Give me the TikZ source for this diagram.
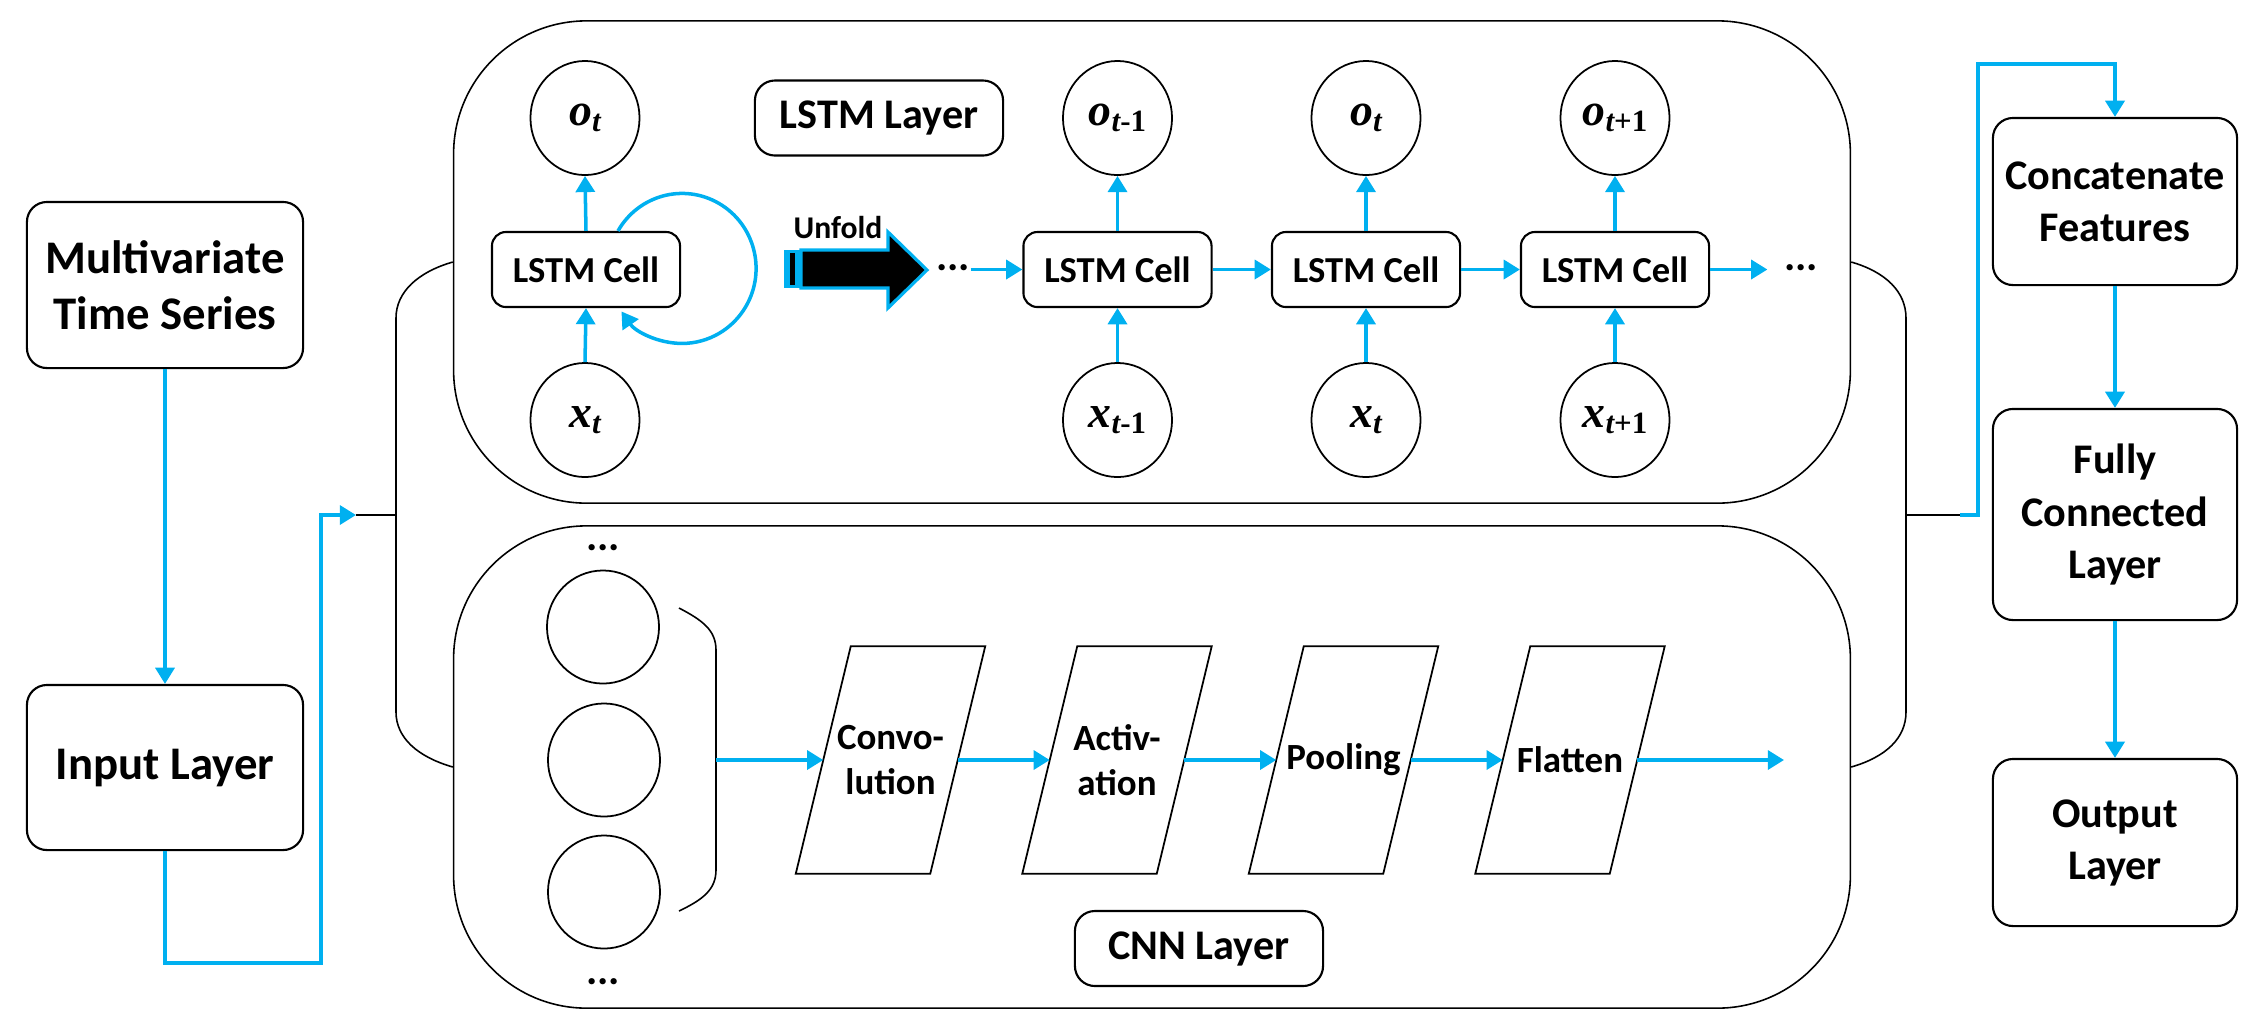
\documentclass[tikz,border=0pt]{standalone}
\usepackage{fontspec}
\setmainfont{Carlito}
\newfontfamily\tnr{Liberation Serif}
\usetikzlibrary{arrows.meta,calc,shapes.geometric}
\definecolor{cblue}{RGB}{0,176,240}
\newcommand\lab[3]{#1\raisebox{-1.9pt}{\fontsize{8.8}{8.8}\selectfont#2{\upshape#3}}}
\tikzset{
  bl/.style={draw=cblue, line width=1pt, -{Triangle[length=4.6pt,width=5.4pt]}},
  blk/.style={draw=black, line width=0.45pt},
  txtbox/.style={draw, line width=0.6pt, rounded corners=0.2cm, align=center,
    font=\fontsize{13.3}{16}\selectfont\bfseries, minimum width=2.76cm, minimum height=1.66cm, inner sep=0},
  rbox/.style={draw, line width=0.6pt, rounded corners=0.2cm, align=center,
    font=\fontsize{12}{14.8}\selectfont\bfseries, minimum width=2.44cm, inner sep=0},
  cellbox/.style={draw, line width=0.6pt, rounded corners=0.14cm,
    font=\fontsize{10.4}{12}\selectfont\bfseries, minimum width=1.88cm, minimum height=0.75cm, inner sep=0},
  lbox/.style={draw, line width=0.6pt, rounded corners=0.2cm,
    font=\fontsize{12}{14}\selectfont\bfseries, minimum width=2.48cm, minimum height=0.75cm, inner sep=0},
  layer/.style={draw, line width=0.45pt, rounded corners=1.33cm, minimum width=13.96cm, minimum height=4.82cm, inner sep=0},
  neuron/.style={draw, ellipse, line width=0.5pt, minimum width=1.09cm, minimum height=1.14cm, inner sep=0,
    font=\tnr\fontsize{13}{13}\selectfont\bfseries\itshape},
  cneuron/.style={draw, ellipse, line width=0.5pt, minimum width=1.12cm, minimum height=1.13cm, inner sep=0},
  parabox/.style={minimum width=1.33cm, minimum height=2.26cm, inner sep=0, align=center,
    font=\fontsize{10.5}{12.8}\selectfont\bfseries},
  dots/.style={font=\fontsize{12}{12}\selectfont\bfseries, inner sep=0},
}
\begin{document}
\begin{tikzpicture}[x=0.01cm, y=-0.01cm]
\useasboundingbox (0,0) rectangle (2259,1023);

% left boxes
\node[txtbox] (mts) at (165,285) {Multivariate\\Time Series};
\node[txtbox, minimum height=1.65cm] (input) at (165,767.5) {Input Layer};

% big layer boxes
\node[layer] (lstm) at (1152,262) {};
\node[layer] (cnn) at (1152,767) {};

% right boxes
\node[rbox, minimum height=1.67cm] (concat) at (2115,201.5) {Concatenate\\Features};
\node[rbox, minimum height=2.11cm] (fc) at (2115,514.5) {Fully\\Connected\\Layer};
\node[rbox, minimum height=1.67cm] (out) at (2115,842.5) {Output\\Layer};

% junctions
\coordinate (jin) at (356,515);
\coordinate (jl) at (396,515);
\coordinate (jr) at (1906,515);
\coordinate (jout) at (1960,515);

% brackets
\draw[blk] (lstm.west) .. controls (418,272) and (396,292) .. (396,318) -- (396,712)
  .. controls (396,738) and (418,757) .. (cnn.west);
\draw[blk] (lstm.east) .. controls (1886,272) and (1906,292) .. (1906,318) -- (1906,712)
  .. controls (1906,738) and (1886,757) .. (cnn.east);
\draw[blk] (jin) -- (jl);
\draw[blk] (jr) -- (jout);

% left connectors
\draw[bl] (mts.south) -- (input.north);
\draw[bl] (input.south) -- ++(0,112) -| (321,515) -- (jin);

% right connectors
\draw[bl] (jout) -- (1978,515) |- ($(concat.north)+(0,-53)$) -- (concat.north);
\draw[bl] (concat.south) -- (fc.north);
\draw[bl] (fc.south) -- (out.north);

% LSTM layer content
\node[lbox] (lstmlab) at (879,118) {LSTM Layer};
\node[cellbox] (cell1) at (586,269.5) {LSTM Cell};
\node[neuron] (o1) at (585,118) {\lab{o}{t}{}};
\node[neuron] (x1) at (585,420) {\lab{x}{t}{}};
\draw[bl] (cell1.north) -- (o1.south);
\draw[bl] (x1.north) -- (cell1.south);
\draw[bl] ($(cell1.north)+(32,0)$) arc[start angle=-150, end angle=145, x radius=74, y radius=75];

\node[font=\fontsize{9}{10}\selectfont\bfseries, inner sep=0] (unfold) at (838,227) {Unfold};
\fill[cblue] (784,250) rectangle (800,288);
\fill[black] (789.5,253) rectangle (795,285);
\filldraw[fill=black, draw=cblue, line width=0.9pt]
  (801,250) -- (888,250) -- (888,232) -- (927,270) -- (888,308) -- (888,288) -- (801,288) -- cycle;

\node[dots] (dots1) at (953,268) {...};
\node[cellbox] (cell2) at (1117.5,269.5) {LSTM Cell};
\node[cellbox] (cell3) at (1366,269.5) {LSTM Cell};
\node[cellbox] (cell4) at (1615,269.5) {LSTM Cell};
\node[dots] (dots2) at (1801,268) {...};
\node[neuron] (o2) at (1117.5,118) {\lab{o}{t}{-1}};
\node[neuron] (x2) at (1117.5,420) {\lab{x}{t}{-1}};
\node[neuron] (o3) at (1366,118) {\lab{o}{t}{}};
\node[neuron] (x3) at (1366,420) {\lab{x}{t}{}};
\node[neuron] (o4) at (1615,118) {\lab{o}{t}{+1}};
\node[neuron] (x4) at (1615,420) {\lab{x}{t}{+1}};
\foreach \i in {2,3,4}{
  \draw[bl] (cell\i.north) -- (o\i.south);
  \draw[bl] (x\i.north) -- (cell\i.south);
}
\draw[bl] (dots1.east |- cell2.west) -- (cell2.west);
\draw[bl] (cell2.east) -- (cell3.west);
\draw[bl] (cell3.east) -- (cell4.west);
\draw[bl, shorten >=0.16cm] (cell4.east) -- (cell4.east -| dots2.west);

% CNN layer content
\node[dots] (cdots1) at (603,548) {...};
\node[cneuron] (c1) at (603,627) {};
\node[cneuron] (c2) at (604,760) {};
\node[cneuron] (c3) at (604,892) {};
\node[dots] (cdots2) at (603,982) {...};
\coordinate (jc) at (716,760);
\draw[blk] (679,608) .. controls (702,620) and (716,630) .. (716,650) -- (716,870)
  .. controls (716,890) and (702,900) .. (679,911);

\node[parabox] (conv) at (890.5,760) {Convo-\\lution};
\node[parabox] (act) at (1117,760) {Activ-\\ation};
\node[parabox] (pool) at (1343.5,760) {Pooling};
\node[parabox] (flat) at (1570,760) {Flatten};
\foreach \n in {conv,act,pool,flat}{
  \draw[line width=0.5pt] ($(\n.north west)+(27.5,0)$) -- ($(\n.north east)+(27.5,0)$)
    -- ($(\n.south east)+(-27.5,0)$) -- ($(\n.south west)+(-27.5,0)$) -- cycle;
}
\coordinate (cnnend) at (1784,760);
\draw[bl] (jc) -- (conv.west);
\draw[bl] (conv.east) -- (act.west);
\draw[bl] (act.east) -- (pool.west);
\draw[bl] (pool.east) -- (flat.west);
\draw[bl] (flat.east) -- (cnnend);

\node[lbox] (cnnlab) at (1199,948.5) {CNN Layer};
\end{tikzpicture}
\end{document}
